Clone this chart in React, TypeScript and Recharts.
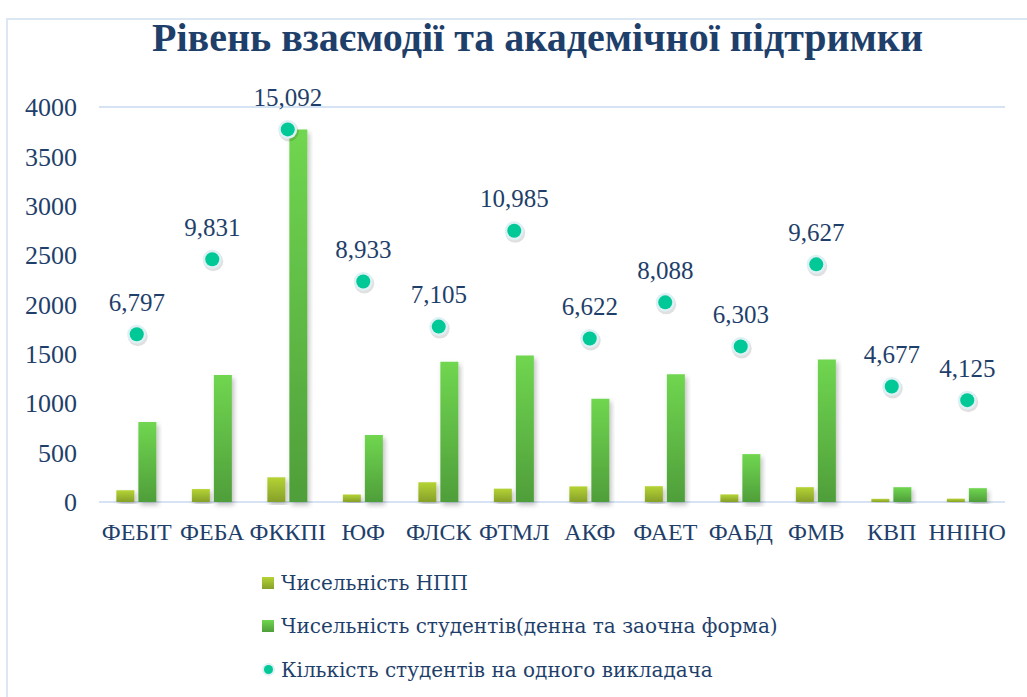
import React from 'react';
import { ComposedChart, Bar, Line, XAxis, YAxis, CartesianGrid, Legend, LabelList } from 'recharts';

const categories = ['ФЕБІТ', 'ФЕБА', 'ФККПІ', 'ЮФ', 'ФЛСК', 'ФТМЛ', 'АКФ', 'ФАЕТ', 'ФАБД', 'ФМВ', 'КВП', 'ННІНО'];
const staff = [119, 131, 250, 76, 200, 135, 158, 160, 77, 150, 32, 34];
const students = [810, 1286, 3773, 679, 1421, 1483, 1046, 1294, 485, 1444, 150, 140];
const ratio = [6.797, 9.831, 15.092, 8.933, 7.105, 10.985, 6.622, 8.088, 6.303, 9.627, 4.677, 4.125];
const yTicks = [0, 500, 1000, 1500, 2000, 2500, 3000, 3500, 4000];

const seriesNames = ['Чисельність НПП', 'Чисельність студентів(денна та заочна форма)', 'Кількість студентів на одного викладача'];

const data = categories.map((c, i) => ({ name: c, staff: staff[i], students: students[i], ratio: ratio[i] }));

const NAVY = '#1F3F6B';
const FONT = '"Liberation Serif", "DejaVu Serif", serif';
const FONT_WIDE = '"DejaVu Serif", "Liberation Serif", serif';

const Dot = (props: any) => {
  const { cx, cy } = props;
  if (cx == null || cy == null) return null;
  return (
    <g>
      <circle cx={cx + 1} cy={cy + 2} r={10} fill="#000" opacity={0.12} />
      <circle cx={cx} cy={cy} r={9.5} fill="#DDF0F4" />
      <circle cx={cx} cy={cy} r={7} fill="#00C896" />
    </g>
  );
};

const RatioLabel = (props: any) => {
  const { x, y, value } = props;
  return (
    <text x={x} y={y - 32} textAnchor="middle" dominantBaseline="central" fill={NAVY} fontSize={25} fontFamily={FONT}>
      {Number(value).toFixed(3).replace('.', ',')}
    </text>
  );
};

const LegendContent = () => (
  <div style={{ fontFamily: FONT_WIDE, fontSize: 20, color: NAVY }}>
    {seriesNames.map((n, i) => (
      <div key={n} style={{ display: 'flex', alignItems: 'center', height: 43.5 }}>
        {i < 2 ? (
          <span style={{ display: 'inline-block', width: 12, height: 12, marginRight: 7, background: i === 0 ? 'linear-gradient(#B5D334,#86A02A)' : 'linear-gradient(#70D650,#4F9E3A)' }} />
        ) : (
          <span style={{ display: 'inline-block', width: 9, height: 9, marginLeft: 2, marginRight: 8, borderRadius: '50%', background: '#00C896', boxShadow: '0 0 0 2px #DDF0F4' }} />
        )}
        <span>{n}</span>
      </div>
    ))}
  </div>
);

export default function App() {
  return (
    <div style={{ position: 'fixed', left: 0, top: 0, width: 1027, height: 697, background: '#fff', overflow: 'hidden' }}>
      <div style={{ position: 'absolute', left: 6, top: 18, width: 1040, height: 700, border: '2px solid #DCE7F4', boxSizing: 'border-box' }} />
      <div style={{ position: 'absolute', left: 24, width: 1027, top: 13, textAlign: 'center', fontFamily: FONT, fontWeight: 'bold', fontSize: 40, color: NAVY, lineHeight: '50px' }}>
        Рівень взаємодії та академічної підтримки
      </div>
      <div style={{ position: 'absolute', left: 0, top: 0 }}>
        <ComposedChart width={1027} height={697} data={data} margin={{ top: 107, right: 22, bottom: 155, left: 9 }} barCategoryGap="23%" barGap={4}>
          <defs>
            <linearGradient id="gStaff" x1="0" y1="0" x2="0" y2="1">
              <stop offset="0%" stopColor="#B5D334" />
              <stop offset="100%" stopColor="#86A02A" />
            </linearGradient>
            <linearGradient id="gStud" x1="0" y1="0" x2="0" y2="1">
              <stop offset="0%" stopColor="#70D650" />
              <stop offset="100%" stopColor="#4F9E3A" />
            </linearGradient>
            <filter id="shadow" x="-30%" y="-5%" width="160%" height="115%">
              <feDropShadow dx="2" dy="3" stdDeviation="2.5" floodColor="#000" floodOpacity="0.25" />
            </filter>
          </defs>
          <CartesianGrid vertical={false} stroke="#D5E3F4" strokeWidth={2} />
          <XAxis dataKey="name" axisLine={false} tickLine={false} tickSize={0} tickMargin={21} height={40} interval={0}
            tick={{ fill: NAVY, fontSize: 24, fontFamily: FONT }} />
          <YAxis yAxisId="left" domain={[0, 4000]} ticks={yTicks} axisLine={false} tickLine={false} tickSize={0} tickMargin={22} width={90}
            tick={{ fill: NAVY, fontSize: 26, fontFamily: FONT }} interval={0} />
          <YAxis yAxisId="right" orientation="right" domain={[0, 16]} hide />
          <Bar yAxisId="left" dataKey="staff" name={seriesNames[0]} fill="url(#gStaff)" isAnimationActive={false} filter="url(#shadow)" />
          <Bar yAxisId="left" dataKey="students" name={seriesNames[1]} fill="url(#gStud)" isAnimationActive={false} filter="url(#shadow)" />
          <Line yAxisId="right" dataKey="ratio" name={seriesNames[2]} stroke="none" dot={<Dot />} activeDot={false} isAnimationActive={false}>
            <LabelList dataKey="ratio" content={<RatioLabel />} />
          </Line>
          <Legend layout="vertical" align="center" verticalAlign="middle" content={<LegendContent />}
            wrapperStyle={{ top: 561, left: 262, width: 600, height: 132 }} />
        </ComposedChart>
      </div>
    </div>
  );
}
